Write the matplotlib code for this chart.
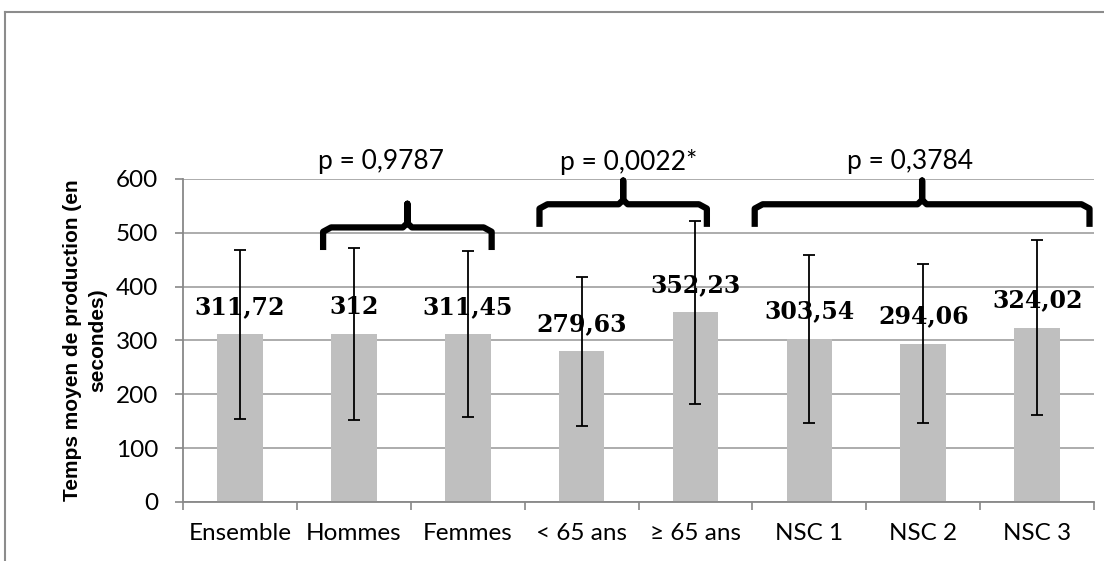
import matplotlib.pyplot as plt
from matplotlib.lines import Line2D
import numpy as np

categories = ['Ensemble', 'Hommes', 'Femmes', '< 65 ans', '≥ 65 ans', 'NSC 1', 'NSC 2', 'NSC 3']
means = [311.72, 312, 311.45, 279.63, 352.23, 303.54, 294.06, 324.02]
sds = [157, 160, 154, 138, 170, 156, 148, 162]
value_labels = ['311,72', '312', '311,45', '279,63', '352,23', '303,54', '294,06', '324,02']

# compared groups: brace span (in category units) and p-values
brace_x0 = [0.73, 2.63, 4.52]
brace_x1 = [2.21, 4.10, 7.46]
brace_ends = [468, 511, 511]
p_labels = ['p = 0,9787', 'p = 0,0022*', 'p = 0,3784']
p_x = [1.24, 3.41, 5.88]

plt.rcParams['font.family'] = ['Lato', 'DejaVu Sans']

fig = plt.figure(figsize=(11.04, 5.61), dpi=100)
ax = fig.add_axes([0.1658, 0.1052, 0.8252, 0.5758])

x = np.arange(len(categories))
ax.bar(x, means, width=0.40, color='#bfbfbf', zorder=2)
ax.errorbar(x, means, yerr=sds, fmt='none', ecolor='black', elinewidth=1.3,
            capsize=4, capthick=1.3, zorder=3)

for xi, m, lab in zip(x, means, value_labels):
    ax.annotate(lab, (xi, m), xytext=(0, 11), textcoords='offset points',
                ha='center', va='bottom', fontsize=17, fontweight='bold',
                family='DejaVu Serif', zorder=4)

ax.set_ylim(0, 600)
ax.set_xlim(-0.5, len(categories) - 0.5)
ax.set_yticks(range(0, 601, 100))
ax.tick_params(axis='y', labelsize=17.5, length=6, width=1.2, color='#888888', pad=12)
ax.yaxis.grid(True, color='#a6a6a6', linewidth=1.3, zorder=0)
ax.set_axisbelow(True)

ax.set_xticks(x)
ax.set_xticklabels(categories, fontsize=17.5)
ax.tick_params(axis='x', length=0, pad=15)
ax.set_xticks(np.arange(-0.5, len(categories)), minor=True)
ax.tick_params(axis='x', which='minor', length=6, width=1.2, color='#888888')

for s in ['top', 'right']:
    ax.spines[s].set_visible(False)
for s in ['left', 'bottom']:
    ax.spines[s].set_color('#888888')
    ax.spines[s].set_linewidth(1.3)

ax.set_ylabel('Temps moyen de production (en\nsecondes)', fontsize=15,
              fontweight='bold', family='Liberation Sans', labelpad=6,
              linespacing=1.4)

# curly braces above the compared groups
def brace(ax, x0, x1, y_end, y_bar, y_tip):
    xm = (x0 + x1) / 2
    r = 0.07
    xs = [x0, x0, x0 + r, xm - 0.04, xm, xm, xm, xm + 0.04, x1 - r, x1, x1]
    ys = [y_end, y_bar - 8, y_bar, y_bar, y_bar + 8, y_tip, y_bar + 8, y_bar, y_bar, y_bar - 8, y_end]
    ax.plot(xs, ys, color='black', linewidth=4.5, solid_capstyle='butt',
            solid_joinstyle='round', clip_on=False, zorder=5)

for x0, x1, ye, pl, px in zip(brace_x0, brace_x1, brace_ends, p_labels, p_x):
    yb = ye + 42
    brace(ax, x0, x1, ye, yb, yb + 44)
    ax.text(px, 632, pl, ha='center', va='center', fontsize=19, clip_on=False)

# outer chart border (left and top visible)
fig.add_artist(Line2D([5 / 1104, 5 / 1104], [0, 1 - 12 / 561], transform=fig.transFigure,
                      color='#8c8c8c', linewidth=1.5))
fig.add_artist(Line2D([5 / 1104, 1], [1 - 12 / 561, 1 - 12 / 561], transform=fig.transFigure,
                      color='#8c8c8c', linewidth=1.5))

fig.savefig('out.png', dpi=100)
